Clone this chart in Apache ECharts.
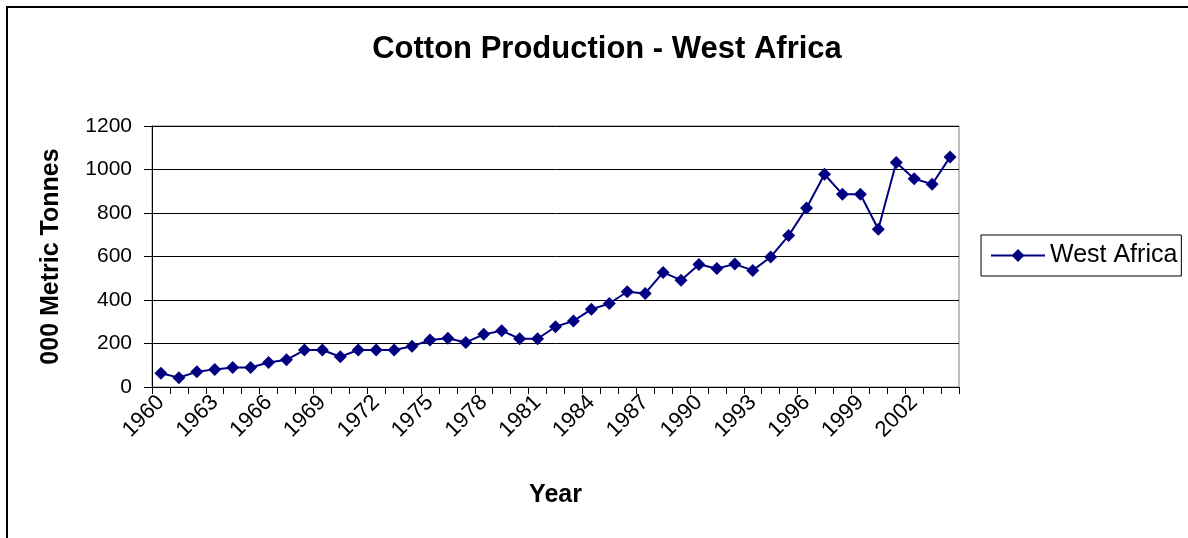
<!DOCTYPE html>
<html>
<head>
<meta charset="utf-8">
<title>Cotton Production - West Africa</title>
<script src="https://cdn.jsdelivr.net/npm/echarts@6/dist/echarts.min.js"></script>
<style>
html, body { margin: 0; padding: 0; background: #fff; }
#myChart { width: 1188px; height: 538px; }
</style>
</head>
<body>
<div id="myChart"></div>
<script>
// years on the x axis
var years = ['1960','1961','1962','1963','1964','1965','1966','1967','1968','1969',
	'1970','1971','1972','1973','1974','1975','1976','1977','1978','1979',
	'1980','1981','1982','1983','1984','1985','1986','1987','1988','1989',
	'1990','1991','1992','1993','1994','1995','1996','1997','1998','1999',
	'2000','2001','2002','2003','2004'];
// 000 metric tonnes
var westAfrica = [63, 43, 70, 81, 90, 90, 113, 125, 170, 170,
	139, 170, 170, 170, 187, 216, 224, 205, 242, 259,
	222, 222, 277, 304, 357, 384, 438, 430, 527, 491,
	563, 545, 565, 536, 598, 696, 823, 978, 886, 886,
	725, 1032, 958, 932, 1057];
var yTicks = [0, 200, 400, 600, 800, 1000, 1200];

var font = '"Liberation Sans", Arial, sans-serif';
var myChart = echarts.init(document.getElementById('myChart'));

var option = {
	backgroundColor: '#fff',
	animation: false,
	// outer frame of the chart area
	graphic: [{
		type: 'rect',
		shape: { x: 7, y: 7, width: 1300, height: 700 },
		style: { fill: 'none', stroke: '#000', lineWidth: 2 },
		silent: true
	}],
	title: {
		text: 'Cotton Production - West Africa',
		left: 602,
		top: 29,
		textAlign: 'center',
		textStyle: { fontFamily: font, fontSize: 31, fontWeight: 'bold', color: '#000' }
	},
	legend: {
		data: ['West Africa'],
		left: 981,
		top: 235,
		orient: 'vertical',
		padding: [8, 4, 8, 9],
		itemWidth: 54,
		itemHeight: 16,
		itemGap: 5,
		borderColor: '#000',
		borderWidth: 1,
		textStyle: { fontFamily: font, fontSize: 25, color: '#000', padding: [0, 0, 0, 0] }
	},
	grid: {
		left: 152,
		right: 229,
		top: 126,
		bottom: 151,
		show: true,
		borderColor: '#808080',
		borderWidth: 1,
		backgroundColor: '#fff'
	},
	xAxis: {
		type: 'category',
		data: years,
		boundaryGap: true,
		name: 'Year',
		nameLocation: 'middle',
		nameGap: 96,
		nameTextStyle: { fontFamily: font, fontSize: 25, fontWeight: 'bold', color: '#000' },
		axisLine: { lineStyle: { color: '#000', width: 1 } },
		axisTick: { show: true, interval: 0, alignWithLabel: false, length: 7, lineStyle: { color: '#000' } },
		axisLabel: {
			interval: 2,
			rotate: 45,
			margin: 12,
			fontFamily: font,
			fontSize: 22,
			color: '#000'
		},
		splitLine: { show: false }
	},
	yAxis: {
		type: 'value',
		min: yTicks[0],
		max: yTicks[yTicks.length - 1],
		interval: 200,
		name: '000 Metric Tonnes',
		nameLocation: 'middle',
		nameRotate: 90,
		nameGap: 88,
		nameTextStyle: { fontFamily: font, fontSize: 25, fontWeight: 'bold', color: '#000' },
		axisLine: { show: true, lineStyle: { color: '#000', width: 1 } },
		axisTick: { show: true, length: 8, lineStyle: { color: '#000' } },
		axisLabel: {
			margin: 20, fontFamily: font, fontSize: 21, color: '#000',
			formatter: function (v) { return '' + v; }
		},
		splitLine: { show: true, lineStyle: { color: '#000', width: 1 } }
	},
	series: [{
		name: 'West Africa',
		type: 'line',
		data: westAfrica,
		symbol: 'diamond',
		symbolSize: 13,
		showAllSymbol: true,
		color: '#000080',
		lineStyle: { color: '#000080', width: 2 },
		itemStyle: { color: '#000080' }
	}]
};
myChart.setOption(option, true);
</script>
</body>
</html>
